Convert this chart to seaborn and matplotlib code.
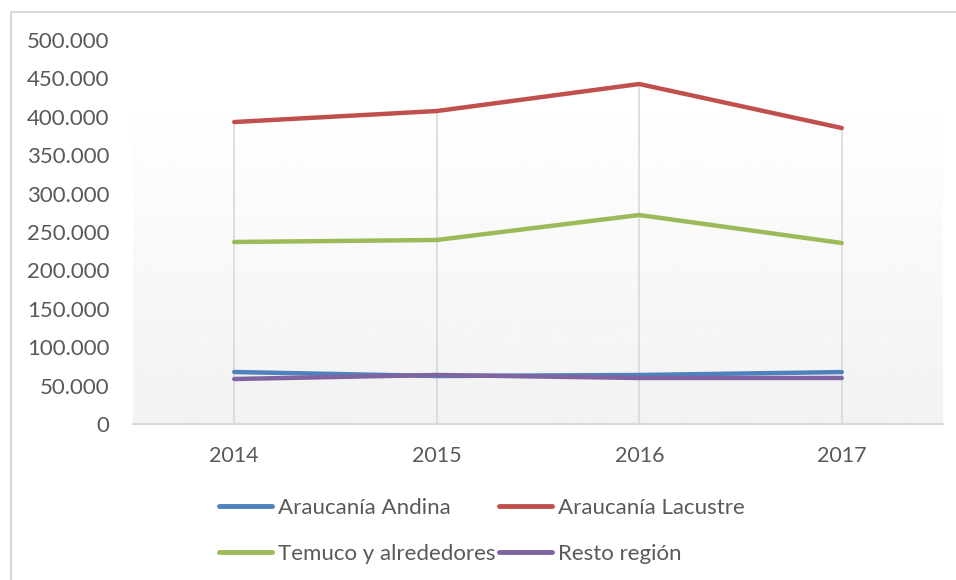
import numpy as np
import pandas as pd
import matplotlib
matplotlib.use('Agg')
import matplotlib.pyplot as plt
import seaborn as sns
from matplotlib.patches import Rectangle
from matplotlib.ticker import FuncFormatter

years = ['2014', '2015', '2016', '2017']
andina = [67700, 62500, 63800, 67600]
lacustre = [393200, 407500, 442700, 385400]
temuco = [237000, 239600, 272100, 235700]
resto = [58600, 63800, 59900, 59900]
series_names = ['Araucanía Andina', 'Araucanía Lacustre', 'Temuco y alrededores', 'Resto región']
colors = ['#4f81bd', '#c0504d', '#9bbb59', '#8064a2']

dat = pd.DataFrame({'year': years * 4,
                    'value': andina + lacustre + temuco + resto,
                    'serie': [s for s in series_names for _ in years]})
dat['x'] = dat.year.map({y: i for i, y in enumerate(years)})

sns.set_style('white')
plt.rcParams['font.family'] = ['Lato', 'DejaVu Sans']

fig = plt.figure(figsize=(9.56, 5.8), dpi=100)
ax = fig.add_axes([133 / 956, 1 - 424 / 580, 810 / 956, 384 / 580])

# outer chart border (only left and top visible)
fig.patches.append(Rectangle((11 / 956, -0.1), 1.2, 1.1 - 12 / 580, transform=fig.transFigure,
                             fill=False, edgecolor='#d9d9d9', linewidth=1.5, zorder=0))

# gradient plot area
grad = np.linspace(1.0, 0.949, 256).reshape(-1, 1)
ax.imshow(grad, cmap='gray', vmin=0, vmax=1, aspect='auto', extent=(0, 1, 0, 0.87),
          transform=ax.transAxes, zorder=0)

# drop lines
maxes = dat.groupby('x').value.max()
ax.vlines(maxes.index, 0, maxes.values, color='#d9d9d9', linewidth=1.2, zorder=1)

sns.lineplot(data=dat, x='x', y='value', hue='serie', hue_order=series_names,
             palette=colors, linewidth=3.2, ax=ax, legend=False, zorder=3,
             solid_capstyle='round')

ax.set_xlim(-0.5, 3.5)
ax.set_ylim(0, 500000)
ax.set_yticks(np.arange(0, 500001, 50000))
ax.yaxis.set_major_formatter(FuncFormatter(lambda v, p: '{:,.0f}'.format(v).replace(',', '.')))
ax.set_xticks(range(len(years)))
ax.set_xticklabels(years)
ax.set_xlabel('')
ax.set_ylabel('')
ax.tick_params(axis='y', length=0, pad=17, labelsize=16, labelcolor='#595959')
ax.tick_params(axis='x', length=0, pad=16, labelsize=15.5, labelcolor='#595959')
for s in ['top', 'right', 'left']:
    ax.spines[s].set_visible(False)
ax.spines['bottom'].set_color('#d9d9d9')
ax.spines['bottom'].set_linewidth(1.5)
ax.patch.set_alpha(0)

handles = [plt.Line2D([], [], color=c, linewidth=3.5, solid_capstyle='round') for c in colors]
order = [0, 2, 1, 3]
leg = fig.legend([handles[i] for i in order], [series_names[i] for i in order],
                 ncol=2, loc='center left', bbox_to_anchor=(210 / 956, 1 - 531 / 580),
                 frameon=False, fontsize=16, handlelength=2.4, handletextpad=0.25,
                 columnspacing=0.15, labelspacing=1.15, borderaxespad=0)
for t in leg.get_texts():
    t.set_color('#595959')

fig.savefig('out.png', dpi=100)
